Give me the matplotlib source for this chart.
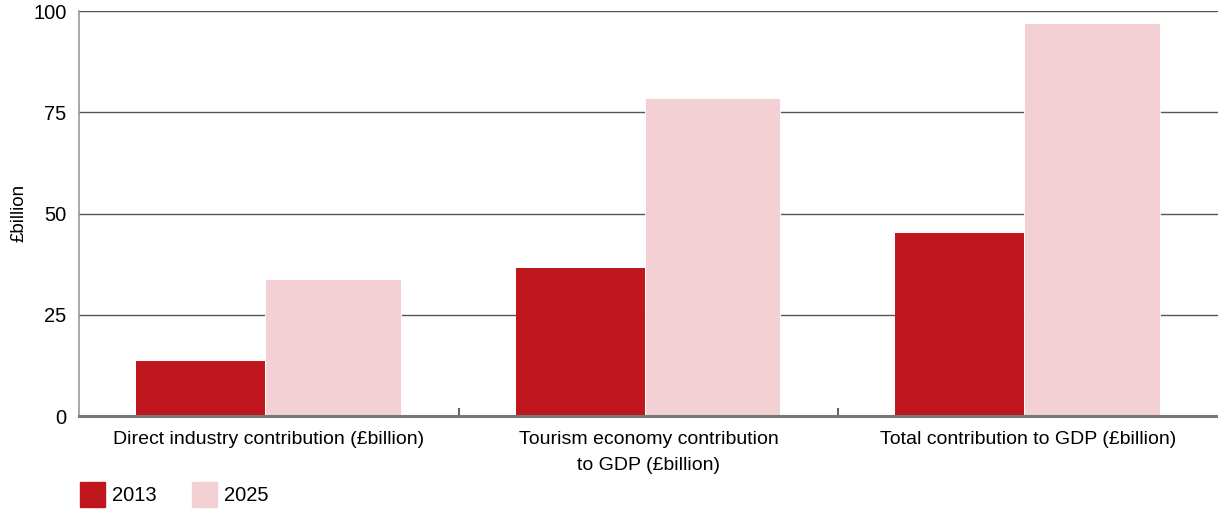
import matplotlib.pyplot as plt
from matplotlib.patches import Rectangle

plt.rcParams['font.family'] = ['Liberation Sans', 'DejaVu Sans']

categories = ["Direct industry contribution (£billion)",
              "Tourism economy contribution\nto GDP (£billion)",
              "Total contribution to GDP (£billion)"]
years = ["2013", "2025"]
values_2013 = [13.6, 36.6, 45.3]
values_2025 = [33.9, 78.4, 97.1]
y_ticks = [0, 25, 50, 75, 100]

red = "#C0161D"
pink = "#F2D0D3"

fig = plt.figure(figsize=(12.18, 5.11), dpi=100)
ax = fig.add_axes([79 / 1218, 1 - 416 / 511, 1 - 79 / 1218, 405 / 511])

# each category occupies one unit on x; bars sit inside it
x = range(len(categories))
ax.bar([i + 0.15 for i in x], values_2013, width=0.34, align='edge',
       color=red, zorder=3)
ax.bar([i + 0.49 for i in x], values_2025, width=0.357, align='edge',
       color=pink, edgecolor='white', linewidth=0.6, zorder=3)

ax.set_xlim(0, len(categories))
ax.set_ylim(0, 100)
ax.set_yticks(y_ticks)
ax.set_yticklabels([str(t) for t in y_ticks], fontsize=14.5)
ax.tick_params(axis='y', length=0, pad=9)
ax.yaxis.grid(True, color='#555555', linewidth=1.0, zorder=1)

# separators between groups as inward ticks, labels at group centres
ax.set_xticks([1, 2])
ax.set_xticklabels([])
ax.tick_params(axis='x', direction='in', length=6, width=1.5, color='#666666')
for i, label in enumerate(categories):
    ax.text(i + 0.5, -3.6, label, ha='center', va='top', fontsize=14,
            linespacing=1.75, transform=ax.transData)

for side in ['top', 'right']:
    ax.spines[side].set_visible(False)
ax.spines['left'].set_color('#999999')
ax.spines['left'].set_linewidth(1.2)
ax.spines['bottom'].set_color('#777777')
ax.spines['bottom'].set_linewidth(2.2)
ax.spines['bottom'].set_zorder(4)

fig.text(19 / 1218, 1 - 213 / 511, "£billion", rotation=90,
         ha='center', va='center', fontsize=13.5)

# legend drawn as squares along the bottom
for j, (year, color) in enumerate(zip(years, [red, pink])):
    x0 = (80 + j * 112) / 1218
    fig.patches.append(Rectangle((x0, 1 - 507 / 511), 25 / 1218, 25 / 511,
                                 transform=fig.transFigure, color=color))
    fig.text(x0 + 32 / 1218, 1 - 495 / 511, year, ha='left', va='center',
             fontsize=14.5)

fig.savefig("out.png", dpi=100)
